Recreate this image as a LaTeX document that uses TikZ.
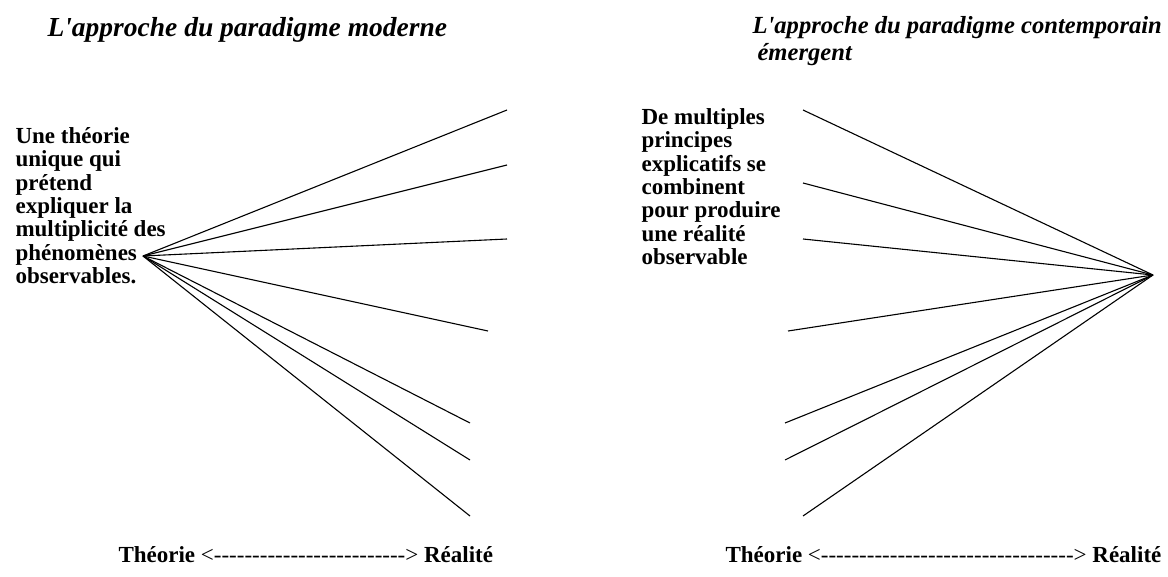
\documentclass[tikz,border=0pt]{standalone}
\usepackage{fontspec}
\setmainfont{Liberation Serif}[Ligatures=TeXOff]
\begin{document}
\begin{tikzpicture}[x=1pt, y=-1pt, line width=1.1pt,
  titre/.style={font=\bfseries\itshape\fontsize{27.5}{28}\selectfont, inner sep=0pt, anchor=base west},
  bloc/.style={font=\bfseries\fontsize{23}{23.3}\selectfont, align=left, inner sep=0pt, anchor=north west},
  axe/.style={font=\fontsize{23}{23}\selectfont, inner sep=0pt, anchor=base west}]
  \useasboundingbox (0,0) rectangle (1168,577);
  % titres
  \node[titre] (tmod) at (47,37) {L'approche du paradigme moderne};
  \node[titre, font=\bfseries\itshape\fontsize{24.6}{25}\selectfont] (tcont) at (752,34) {L'approche du paradigme contemporain};
  \node[titre, font=\bfseries\itshape\fontsize{24.6}{25}\selectfont] (tcont2) at (757,61) {émergent};
  % textes
  \node[bloc] (unique) at (15,127) {Une théorie\\unique qui\\prétend\\expliquer la\\multiplicité des\\phénomènes\\observables.};
  \node[bloc] (multi) at (641,108) {De multiples\\principes\\explicatifs se\\combinent\\pour produire\\une réalité\\observable};
  % axes
  \node[axe] (axeg) at (118,562) {\textbf{Théorie} <-------------------------> \textbf{Réalité}};
  \node[axe] (axed) at (725,562) {\textbf{Théorie} <---------------------------------> \textbf{Réalité}};
  % faisceaux
  \coordinate (src) at (143,256);
  \foreach \x/\y [count=\i] in {507/110, 507/165, 507/239, 488/331, 470/423, 470/460, 470/516} {
    \coordinate (g\i) at (\x,\y);
    \draw (src) -- (g\i);
  }
  \coordinate (puits) at (1153,275);
  \foreach \x/\y [count=\i] in {803/110, 803/183, 803/239, 788/331, 785/423, 785/460, 803/516} {
    \coordinate (d\i) at (\x,\y);
    \draw (d\i) -- (puits);
  }
\end{tikzpicture}
\end{document}
